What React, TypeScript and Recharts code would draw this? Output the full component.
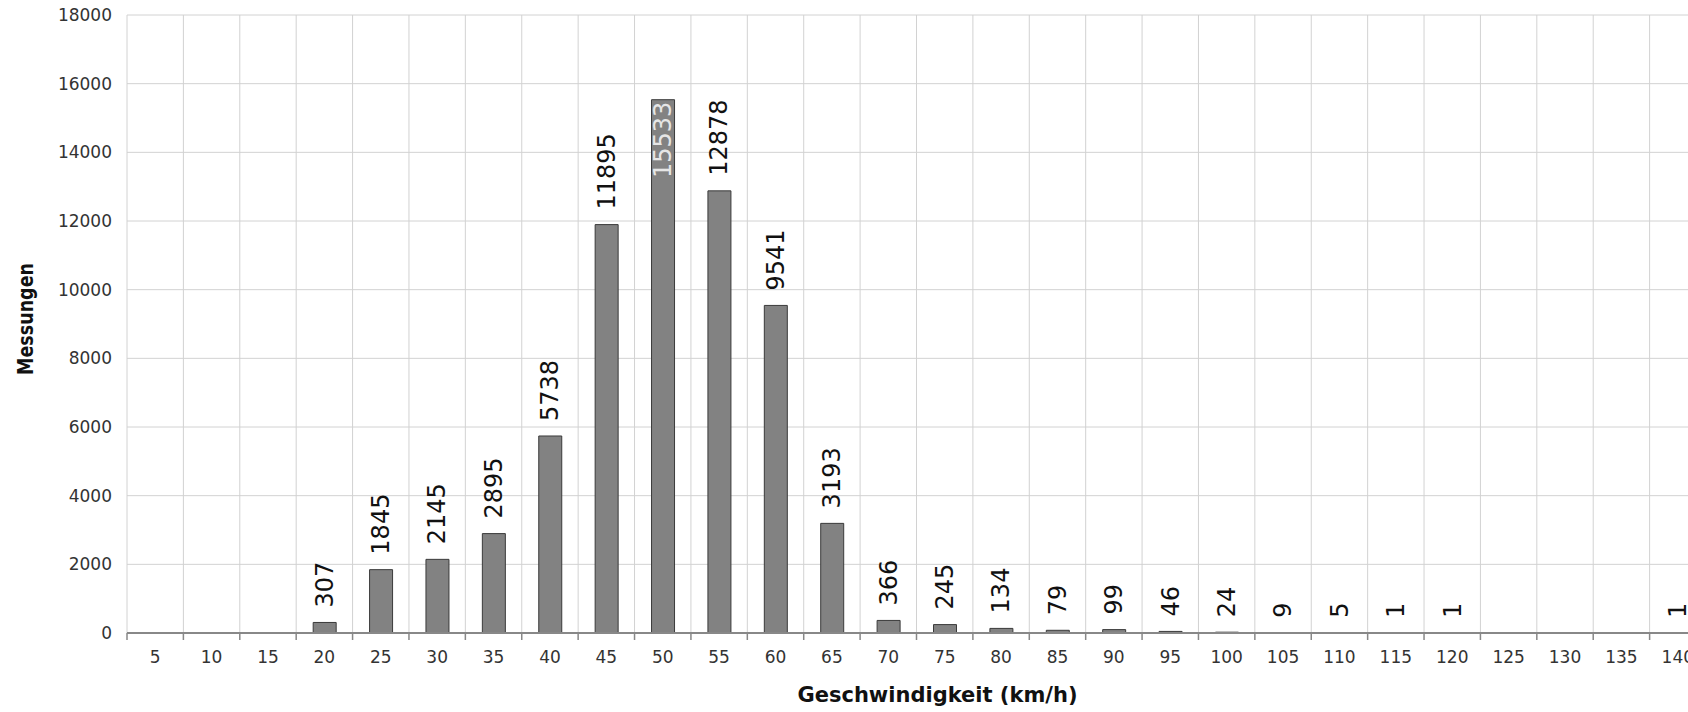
import React from 'react'
import { BarChart, Bar, XAxis, YAxis, CartesianGrid, LabelList, Label } from 'recharts'

// Geschwindigkeitsklassen (km/h) und Anzahl Messungen
const speeds = ['5', '10', '15', '20', '25', '30', '35', '40', '45', '50', '55', '60', '65', '70',
  '75', '80', '85', '90', '95', '100', '105', '110', '115', '120', '125', '130', '135', '140']
const counts = [0, 0, 0, 307, 1845, 2145, 2895, 5738, 11895, 15533, 12878, 9541, 3193, 366,
  245, 134, 79, 99, 46, 24, 9, 5, 1, 1, 0, 0, 0, 1]
const yTicks = [0, 2000, 4000, 6000, 8000, 10000, 12000, 14000, 16000, 18000]

const data = speeds.map((speed, i) => ({ speed, count: counts[i] }))

const CHART_W = 1728
const CHART_H = 712
const MARGIN = { top: 15, right: 22, left: 0, bottom: 0 }
const Y_AXIS_W = 127
const X_AXIS_H = 79
const PLOT_W = CHART_W - MARGIN.left - MARGIN.right - Y_AXIS_W
const BAND = PLOT_W / speeds.length
const FONT = '"DejaVu Sans", Verdana, sans-serif'
const LABEL_SIZE = 24

const XTick = (props: any) => {
  const { x, y, payload } = props
  return (
    <g>
      <line x1={x - BAND / 2} x2={x - BAND / 2} y1={y - 8} y2={y - 1} stroke="#888" strokeWidth={1.5} />
      <text x={x} y={y + 22} textAnchor="middle" fontSize={17} fill="#333" fontFamily={FONT}>
        {payload.value}
      </text>
    </g>
  )
}

const ValueLabel = (props: any) => {
  const { x, y, width, value } = props
  if (!value) return null
  const cx = x + width / 2
  const textLen = String(value).length * 0.636 * LABEL_SIZE
  // no room above the bar -> write the number inside, at the top
  const inside = y - 15 - textLen < MARGIN.top
  if (inside) {
    return (
      <text x={cx} y={y + 2} transform={`rotate(-90 ${cx} ${y + 2})`} textAnchor="end"
        dominantBaseline="central" fontSize={LABEL_SIZE} fill="#e6e6e6" fontFamily={FONT}>
        {value}
      </text>
    )
  }
  return (
    <text x={cx} y={y - 15} transform={`rotate(-90 ${cx} ${y - 15})`} textAnchor="start"
      dominantBaseline="central" fontSize={LABEL_SIZE} fill="#111" fontFamily={FONT}>
      {value}
    </text>
  )
}

export default function App() {
  return (
    <div style={{ width: 1688, height: CHART_H, overflow: 'hidden', fontFamily: FONT }}>
      <style>{'body { margin: 0; }'}</style>
      <BarChart width={CHART_W} height={CHART_H} data={data} margin={MARGIN}>
        <CartesianGrid
          stroke="#d2d2d2"
          verticalCoordinatesGenerator={({ offset }: any) =>
            speeds.map((_, i) => offset.left + (i * offset.width) / speeds.length)
          }
        />
        <XAxis
          dataKey="speed"
          interval={0}
          height={X_AXIS_H}
          tickLine={false}
          tick={<XTick />}
          axisLine={{ stroke: '#888', strokeWidth: 2 }}
        >
          <Label
            content={({ viewBox }: any) => (
              <text x={viewBox.x + viewBox.width / 2 + 21} y={viewBox.y + 69} textAnchor="middle"
                fontSize={21} fontWeight="bold" fill="#111" fontFamily={FONT}>
                Geschwindigkeit (km/h)
              </text>
            )}
          />
        </XAxis>
        <YAxis
          width={Y_AXIS_W}
          domain={[0, 18000]}
          ticks={yTicks}
          tickSize={0}
          tickMargin={15}
          axisLine={false}
          tickLine={false}
          tick={{ fontSize: 17, fill: '#333', fontFamily: FONT }}
        >
          <Label
            content={({ viewBox }: any) => {
              const lx = 25
              const ly = viewBox.y + viewBox.height / 2 - 5
              return (
                <text x={lx} y={ly} transform={`rotate(-90 ${lx} ${ly})`} textAnchor="middle"
                  dominantBaseline="central" fontSize={22} fontWeight="bold" fill="#111"
                  fontFamily={FONT} textLength={112} lengthAdjust="spacingAndGlyphs">
                  Messungen
                </text>
              )
            }}
          />
        </YAxis>
        <Bar dataKey="count" fill="#828282" stroke="#3a3a3a" strokeWidth={1} barSize={23} isAnimationActive={false}>
          <LabelList dataKey="count" content={<ValueLabel />} />
        </Bar>
      </BarChart>
    </div>
  )
}
